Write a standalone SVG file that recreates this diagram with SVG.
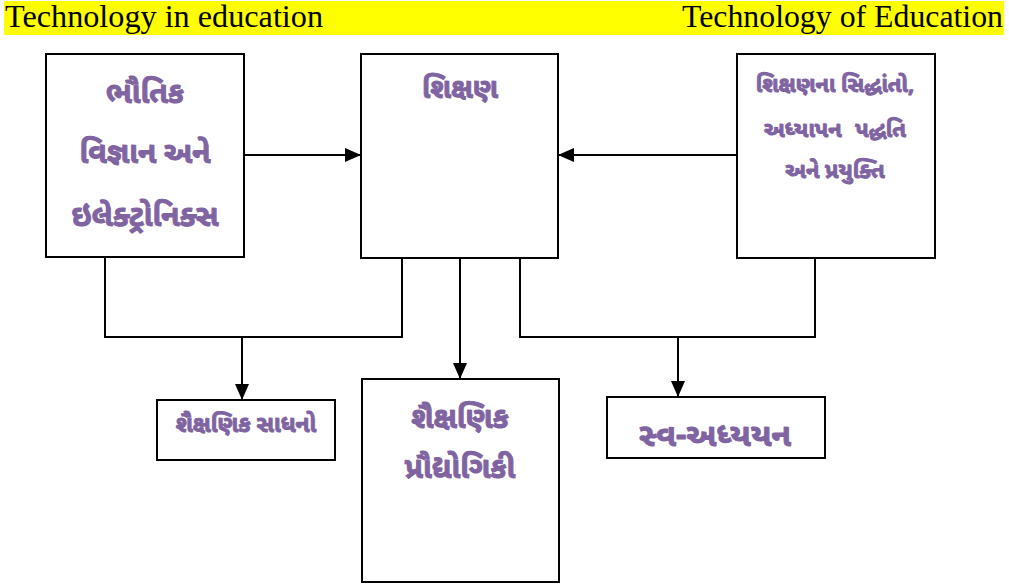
<svg xmlns="http://www.w3.org/2000/svg" width="1009" height="586" viewBox="0 0 1009 586">
<style>
.box{fill:#fff;stroke:#000;stroke-width:2}
.gu{font-family:"Noto Sans Gujarati","Lohit Gujarati","Shruti","Noto Sans",sans-serif;font-weight:bold;fill:#8064A2;stroke:#8064A2;stroke-width:1;stroke-linejoin:round;text-anchor:middle}
.en{font-family:"Liberation Serif",serif;font-size:31px;fill:#000}
.ln{fill:none;stroke:#000;stroke-width:2}
</style>
<defs>
<marker id="ahl" markerWidth="16" markerHeight="14" refX="16" refY="7" orient="auto" markerUnits="userSpaceOnUse" viewBox="0 0 16 14">
<path d="M0,0 L16,7 L0,14 z" fill="#000"/>
</marker>
</defs>
<rect x="4" y="1" width="1000" height="34" fill="#ffff00"/>
<text class="en" x="5" y="27" textLength="318" lengthAdjust="spacingAndGlyphs">Technology in education</text>
<text class="en" x="682" y="27" textLength="321" lengthAdjust="spacingAndGlyphs">Technology of Education</text>
<g id="connectors">
<line class="ln" x1="244" y1="155" x2="361" y2="155" marker-end="url(#ahl)"/>
<line class="ln" x1="737" y1="155" x2="558" y2="155" marker-end="url(#ahl)"/>
<polyline class="ln" points="105,258 105,337 402,337 402,258"/>
<line class="ln" x1="242" y1="337" x2="242" y2="400" marker-end="url(#ahl)"/>
<line class="ln" x1="460" y1="258" x2="460" y2="379" marker-end="url(#ahl)"/>
<polyline class="ln" points="520,258 520,337 815,337 815,258"/>
<line class="ln" x1="678" y1="337" x2="678" y2="397" marker-end="url(#ahl)"/>
</g>
<g id="n1">
<rect class="box" x="46" y="54" width="198" height="203"/>
<text class="gu" x="145" y="103" font-size="30">ભૌતિક</text>
<text class="gu" x="145" y="163" font-size="30">વિજ્ઞાન અને</text>
<text class="gu" x="145" y="226" font-size="30">ઇલેક્ટ્રોનિક્સ</text>
</g>
<g id="n2">
<rect class="box" x="361" y="54" width="197" height="204"/>
<text class="gu" x="460" y="98" font-size="28">શિક્ષણ</text>
</g>
<g id="n3">
<rect class="box" x="737" y="54" width="198" height="204"/>
<text class="gu" x="835" y="92" font-size="22">શિક્ષણના સિદ્ધાંતો,</text>
<text class="gu" x="835" y="137" font-size="22" word-spacing="8">અધ્યાપન પદ્ધતિ</text>
<text class="gu" x="835" y="178" font-size="22">અને પ્રયુક્તિ</text>
</g>
<g id="n4">
<rect class="box" x="157" y="400" width="178" height="60"/>
<text class="gu" x="246" y="432" font-size="23">શૈક્ષણિક સાધનો</text>
</g>
<g id="n5">
<rect class="box" x="362" y="379" width="197" height="203"/>
<text class="gu" x="460" y="428" font-size="30">શૈક્ષણિક</text>
<text class="gu" x="460" y="478" font-size="30">પ્રૌદ્યોગિકી</text>
</g>
<g id="n6">
<rect class="box" x="607" y="397" width="218" height="61"/>
<text class="gu" x="715" y="446" font-size="32">સ્વ-અધ્યયન</text>
</g>
</svg>
